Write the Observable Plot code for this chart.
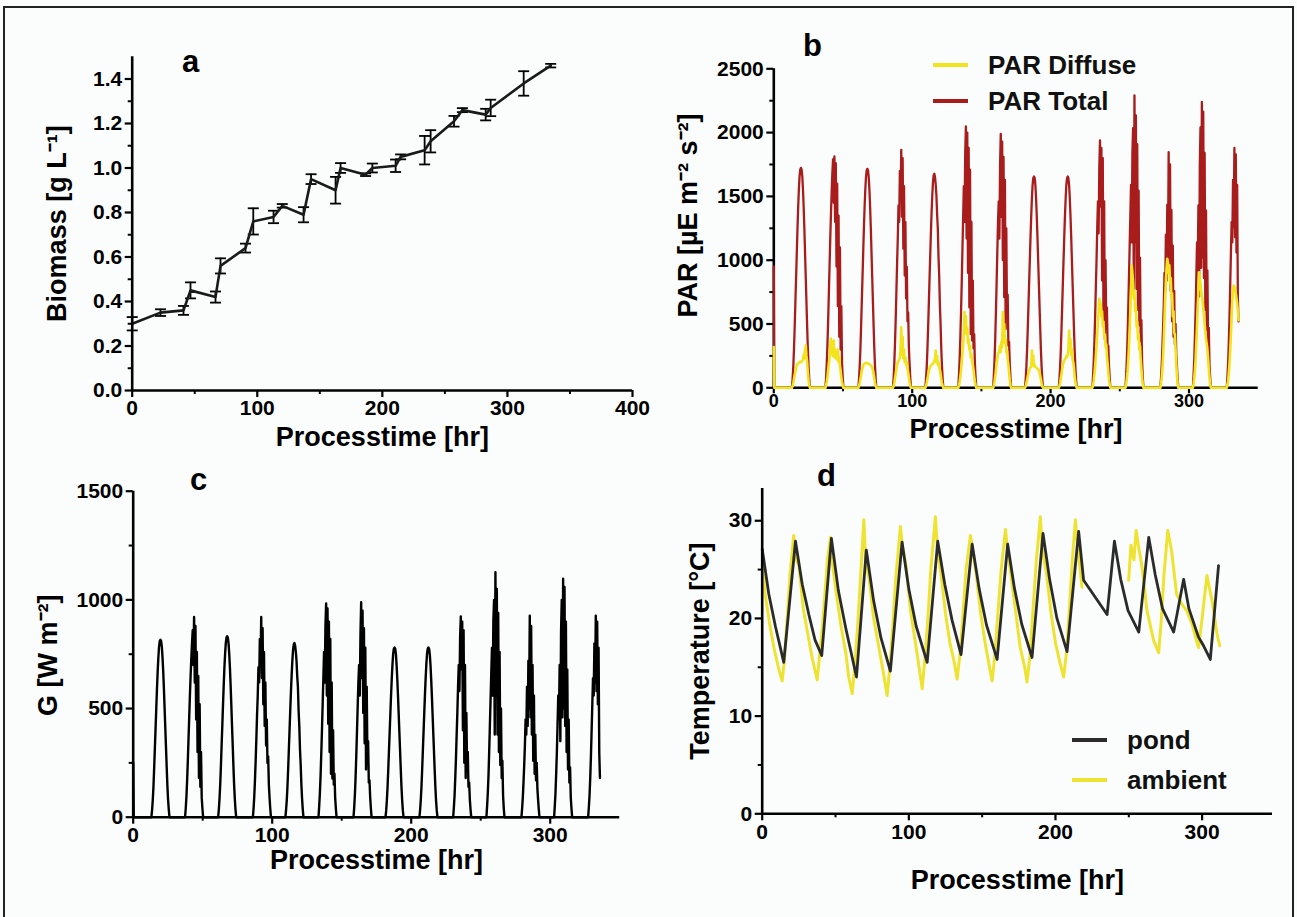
<!DOCTYPE html>
<html><head><meta charset="utf-8">
<script src="https://cdn.jsdelivr.net/npm/d3@7"></script>
<script src="https://cdn.jsdelivr.net/npm/@observablehq/plot@0.6"></script>
<style>
body{margin:0;background:#fbfdfd;}
#fig{position:relative;width:1297px;height:917px;overflow:hidden;font-family:"Liberation Sans",Arial,sans-serif;background:#fbfdfd;}
#frame{position:absolute;left:3px;top:6px;width:1287px;height:960px;border:2px solid #222;}
.panel{position:absolute;}
.legend{position:absolute;font-weight:bold;font-size:26px;color:#111;display:flex;align-items:center;white-space:nowrap;line-height:1;}
.legend .sw{display:inline-block;width:35px;height:4px;margin-right:20px;}
</style></head><body>
<div id="fig"><div id="frame"></div></div>
<script>
// ---------- Panel a: biomass ----------
const bioReadings = [ // [hour, g/L, error]
 [0,0.30,0.03],[22.6,0.35,0.015],[41,0.36,0.02],[46.6,0.45,0.036],[66.6,0.42,0.025],[70.6,0.56,0.034],
 [90.6,0.64,0.02],[96.8,0.76,0.059],[113,0.78,0.028],[120,0.83,0.008],[137,0.79,0.034],[143,0.95,0.022],
 [162.6,0.90,0.06],[166.6,1.00,0.022],[186.6,0.97,0.006],[192,1.00,0.02],[210.6,1.01,0.028],[214.6,1.05,0.011],
 [233.8,1.08,0.064],[238.6,1.12,0.05],[257.3,1.21,0.024],[264,1.26,0.009],[282.6,1.24,0.026],[286.6,1.27,0.037],
 [313,1.38,0.055],[334.6,1.46,0.008]];

// ---------- daily irradiance sampling ----------
const noonHours = [19.6, 43.8, 67.6, 92.6, 116.0, 139.8, 165.0, 188.0, 212.4, 236.7, 260.6, 285.8, 309.3, 333.8];
const dayOffsets = [-6.5,-6,-5.5,-5,-4.5,-4,-3.5,-3,-2.5,-2,-1.5,-1,-0.5,0,0.5,1,1.5,2,2.5,3,3.5,4,4.5,5,5.5,6,6.5];
const startHours = [0, 0.4];

// Panel c: global irradiance G [W m-2]
const gStart = [250, 0];
const gDays = [
 [0,35,80,145,230,320,410,500,590,670,735,785,810,816,810,785,735,670,590,500,410,320,230,145,80,35,0],
 [0,40,95,170,260,360,460,560,650,730,800,860,700,921,620,880,450,760,300,650,180,520,140,300,90,40,0],
 [0,35,85,150,235,330,420,515,605,685,750,800,826,832,826,800,750,685,605,515,420,330,235,150,85,35,0],
 [0,40,95,170,260,360,470,560,690,620,820,700,921,640,870,520,760,420,620,330,450,250,280,150,90,40,0],
 [0,35,80,145,225,315,405,495,580,655,720,770,795,801,790,760,720,650,600,490,420,310,240,150,85,35,0],
 [0,50,110,190,290,400,520,640,760,620,880,983,560,960,430,900,300,820,200,620,178,400,150,200,90,40,0],
 [0,45,105,185,285,395,510,620,700,560,840,989,640,950,480,870,340,780,220,600,270,350,160,170,90,40,0],
 [0,30,78,140,220,305,390,475,560,635,700,750,775,781,775,750,700,635,560,475,390,305,220,140,78,30,0],
 [0,32,80,142,222,308,395,480,565,640,705,752,776,781,774,748,698,632,555,470,385,300,215,138,75,30,0],
 [0,45,100,180,270,380,480,600,700,580,830,924,680,900,400,860,250,700,180,480,220,300,140,160,80,35,0],
 [0,50,110,190,300,420,540,660,780,560,900,1000,380,1127,560,1050,380,940,300,760,240,500,180,260,100,40,0],
 [0,40,90,160,240,330,450,380,600,420,720,500,927,460,880,380,700,260,560,200,380,170,250,130,80,35,0],
 [0,50,110,200,300,430,560,450,700,350,850,1000,460,1097,500,1060,420,900,300,680,220,450,160,230,90,40,0],
 [0,45,100,180,280,400,520,640,560,800,620,927,580,900,520,780,295,180]];

// Panel b: PAR total and diffuse [µE m-2 s-2]
const parTotalStart = [950, 0];
const parTotalDays = [
 [0,70,170,310,480,670,860,1050,1240,1410,1550,1655,1710,1724,1710,1655,1550,1410,1240,1050,860,670,480,310,170,70,0],
 [0,80,200,350,540,750,960,1170,1360,1530,1680,1790,1450,1813,1300,1760,950,1600,640,1350,400,1100,300,640,190,80,0],
 [0,70,175,315,490,680,870,1060,1250,1415,1550,1650,1705,1716,1705,1650,1550,1415,1250,1060,870,680,490,315,175,70,0],
 [0,80,200,355,545,760,980,1180,1430,1300,1700,1480,1865,1340,1800,1090,1580,880,1300,700,950,520,590,320,190,80,0],
 [0,70,165,300,470,655,845,1030,1210,1370,1505,1610,1665,1677,1650,1590,1505,1360,1250,1030,880,650,500,310,175,70,0],
 [0,100,230,400,600,830,1080,1330,1580,1300,1830,2048,1170,2000,900,1880,630,1710,420,1300,370,840,310,420,190,80,0],
 [0,95,220,385,595,825,1065,1295,1460,1170,1750,1990,1340,1930,1000,1810,710,1630,460,1250,560,730,330,360,190,80,0],
 [0,65,165,295,465,645,825,1005,1185,1345,1485,1590,1645,1656,1645,1590,1485,1345,1185,1005,825,645,465,295,165,65,0],
 [0,68,170,300,470,652,835,1015,1195,1355,1490,1592,1643,1656,1640,1585,1478,1338,1175,995,815,635,455,292,160,64,0],
 [0,95,210,375,565,795,1000,1255,1460,1210,1735,1938,1420,1880,840,1800,520,1460,380,1000,460,630,290,330,170,75,0],
 [0,100,225,390,610,855,1100,1340,1590,1140,1830,2035,775,2291,1140,2135,775,1910,610,1545,490,1020,365,530,205,80,0],
 [0,80,180,320,480,660,900,760,1200,840,1435,1000,1846,920,1750,760,1395,520,1115,400,760,340,500,260,160,70,0],
 [0,100,225,410,610,875,1140,920,1430,715,1735,2040,940,2240,1020,2165,860,1840,610,1390,450,920,325,470,185,80,0],
 [0,90,205,365,570,815,1060,1300,1140,1630,1260,1880,1180,1830,1060,1590,700,520]];
const parDiffuseStart = [320, 0];
const parDiffuseDays = [
 [0,15,40,70,100,130,155,175,185,190,195,200,205,200,205,210,220,260,230,300,332,250,200,120,60,20,0],
 [0,20,50,90,140,190,240,330,385,300,260,250,370,240,300,230,260,220,300,200,240,170,130,80,45,20,0],
 [0,15,40,70,100,130,155,175,185,190,192,195,195,192,190,188,185,180,175,168,160,140,110,75,40,15,0],
 [0,15,40,75,110,150,180,200,210,220,240,300,475,260,400,230,300,200,240,180,200,150,120,80,40,15,0],
 [0,15,40,70,100,130,150,165,175,180,185,190,200,210,230,292,200,250,180,200,160,140,110,70,40,15,0],
 [0,20,50,90,140,200,270,350,430,593,500,560,420,470,350,380,300,330,240,260,200,180,140,90,50,20,0],
 [0,20,50,90,140,190,230,260,280,300,330,280,360,320,593,420,500,350,380,280,290,220,180,120,60,20,0],
 [0,12,35,60,90,115,135,150,160,165,292,200,250,170,180,165,160,155,150,145,135,120,95,65,35,12,0],
 [0,15,40,75,110,150,180,200,215,225,235,250,240,260,300,449,320,380,260,300,220,200,150,90,45,15,0],
 [0,25,60,110,170,250,330,420,520,600,697,640,660,560,600,480,520,400,420,320,340,250,190,120,60,25,0],
 [0,30,70,130,210,320,450,600,760,958,900,820,700,760,600,640,480,520,380,420,300,330,220,150,80,30,0],
 [0,30,80,150,250,380,540,700,840,940,1011,980,900,960,820,860,700,740,560,600,430,420,300,180,90,30,0],
 [0,30,75,140,230,350,480,620,760,906,860,820,760,720,680,620,560,500,440,380,346,300,230,150,80,30,0],
 [0,25,60,120,200,300,420,550,680,760,802,790,770,740,700,660,600,530]];

// Panel d: temperatures [hour, °C]
const pondReadings = [
 [0,27.1],[4.5,22.5],[9,19.2],[14.7,15.5],[22.7,27.9],[27.3,23.5],[31.8,20.4],[36,17.8],[40.6,16.2],
 [47.2,28.2],[52,22.8],[57,19.0],[64.3,14.0],[71,27.0],[76,21.8],[81,18.0],[87.4,14.6],[95.4,27.8],
 [100,23.0],[105,19.2],[112.5,15.5],[119.7,27.9],[124.5,23.5],[129.5,19.8],[135.6,16.3],[143.2,27.6],
 [148,23.0],[153,19.3],[160.2,15.8],[167.4,27.6],[172,23.1],[177,19.4],[184,16.0],[191.5,28.7],
 [196,24.0],[201,20.0],[207.9,16.6],[215.8,28.9],[219.2,23.9],[235.2,20.4],[240.2,27.9],[244.5,24.0],
 [249.5,20.8],[256.8,18.6],[263.6,28.3],[268,24.5],[273,21.0],[280.6,18.6],[287.4,24.0],[291,21.0],
 [297.5,18.1],[301,17.2],[305.6,15.8],[311.2,25.4]];
const ambientReadings = [
 [0,25.5],[2,22.5],[5,19.5],[8,17],[11,15],[13.6,13.6],[15,15.5],[17,20],[19,24.5],[21.5,28.5],[23,26],[25,25.5],
 [28,21],[31,18.5],[34,16],[37.5,13.7],[39,16],[41,19],[43,23],[44.5,26],[46.6,28.3],[48,25.5],[51,22],[54,19],
 [57,16.5],[59,14],[61.4,12.3],[63,15],[65,19],[67,24],[69.3,30.1],[70.5,26],[73,24],[76,20],[79,17.5],[82,15],
 [85.2,12.1],[87,15],[89,19],[91,24],[94.3,29.4],[95.5,27.5],[98,25.5],[101,21],[104,18],[107,15],[109.1,12.8],
 [111,16],[113,20],[115,25],[118.1,30.4],[119.5,27],[122,24.5],[125,20.5],[128,17.5],[131,15.5],[132.9,13.8],
 [135,16.5],[137,20.5],[139,25],[142,28.5],[143.5,27],[146,24.5],[149,20.5],[152,17.5],[155,15],[156.8,13.6],
 [158.5,16],[160.5,20],[163,25],[165.9,29.1],[167,27.5],[170,24],[173,20.5],[176,17],[179,15],[180.6,13.5],
 [182.5,16],[184.5,20.5],[187,26],[189.7,30.4],[191,27],[194,24.5],[197,20.5],[200,17.5],[203,15.5],[205.6,14.0],
 [207.5,16.5],[209.5,21],[211.5,26],[213.6,30.1],[215,27.5],[218.1,23.2],[234,null],
 [249.9,23.9],[251.5,27.5],[253.5,26],[255,29],[256.5,27.5],[259,25.3],[262.4,20.8],[267,17.7],[270.4,16.5],
 [272,19.5],[274,24.5],[276.6,29],[279.2,26.9],[282.6,22.5],[286,21.5],[289.4,20.8],[293,19.5],[296.2,17.7],
 [297.6,17.0],[300,20],[303.3,24.4],[306.8,21.8],[310.2,18.4],[312,17.2]];

// ---------- helpers ----------
function dailyRows(startV, days) {
  const rows = startHours.map((t, i) => ({t, v: startV[i]}));
  days.forEach((vals, k) => vals.forEach((v, i) => rows.push({t: noonHours[k] + dayOffsets[i], v})));
  return rows;
}
const bio = bioReadings.map(([t, v, e]) => ({t, v, e}));
const gRows = dailyRows(gStart, gDays);
const totRows = dailyRows(parTotalStart, parTotalDays);
const difRows = dailyRows(parDiffuseStart, parDiffuseDays);
const pond = pondReadings.map(([t, v]) => ({t, v}));
const ambient = ambientReadings.map(([t, v]) => ({t, v}));

const FONT = "Liberation Sans, Arial, Helvetica, sans-serif";
const TITLEFS = 27, LETTERFS = 31;

function axes(xMajor, xMinor, yMajor, yMinor, yFmt, xfs = 21, xpad = 3, xsize = 7) {
  return [
    Plot.axisX({ticks: xMajor, tickSize: xsize, tickPadding: xpad, fontSize: xfs, fontWeight: "bold", strokeWidth: 2.2, label: null, tickFormat: d => String(d)}),
    Plot.axisX({ticks: xMinor, tickSize: 4, tickFormat: () => "", strokeWidth: 2, label: null}),
    Plot.axisY({ticks: yMajor, tickSize: 7, tickPadding: 3, fontSize: 21, fontWeight: "bold", strokeWidth: 2.2, label: null, tickFormat: yFmt}),
    Plot.axisY({ticks: yMinor, tickSize: 4, tickFormat: () => "", strokeWidth: 2, label: null}),
  ];
}
function titles(letter, ldx, ldy, xt, xdy, yt, ydx, ydy) {
  return [
    Plot.text([letter], {frameAnchor: "top-left", dx: ldx, dy: ldy, fontSize: LETTERFS, fontWeight: "bold", textAnchor: "middle", lineAnchor: "middle"}),
    Plot.text([xt], {frameAnchor: "bottom", dy: xdy, fontSize: TITLEFS, fontWeight: "bold", textAnchor: "middle", lineAnchor: "middle"}),
    Plot.text([yt], {frameAnchor: "left", dx: ydx, dy: ydy, rotate: -90, fontSize: TITLEFS, fontWeight: "bold", textAnchor: "middle", lineAnchor: "middle"}),
  ];
}
const style = {background: "transparent", color: "black", fontFamily: FONT, overflow: "visible"};
const frameLines = [Plot.ruleX([0], {strokeWidth: 2.6}), Plot.ruleY([0], {strokeWidth: 2.6})];
const capSymbol = {draw(ctx) { ctx.moveTo(-5.5, 0); ctx.lineTo(5.5, 0); }};

const fig = document.getElementById("fig");
function place(svg, left, top) {
  const d = document.createElement("div");
  d.className = "panel"; d.style.left = left + "px"; d.style.top = top + "px";
  d.appendChild(svg); fig.appendChild(d);
}

// ---------- a ----------
place(Plot.plot({
  width: 660, height: 470, marginLeft: 131.7, marginRight: 28, marginTop: 56.25, marginBottom: 80, style,
  x: {domain: [0, 400]}, y: {domain: [0, 1.5]},
  marks: [
    ...axes([0,100,200,300,400], [50,150,250,350], [0,0.2,0.4,0.6,0.8,1.0,1.2,1.4], [0.1,0.3,0.5,0.7,0.9,1.1,1.3], d3.format(".1f")),
    Plot.ruleX(bio, {x: "t", y1: d => d.v - d.e, y2: d => d.v + d.e, strokeWidth: 1.8}),
    Plot.dot(bio, {x: "t", y: d => d.v - d.e, symbol: capSymbol, r: 3, stroke: "black", strokeWidth: 1.8, fill: "none"}),
    Plot.dot(bio, {x: "t", y: d => d.v + d.e, symbol: capSymbol, r: 3, stroke: "black", strokeWidth: 1.8, fill: "none"}),
    Plot.line(bio, {x: "t", y: "v", stroke: "#1a1a1a", strokeWidth: 2.6}),
    ...frameLines,
    ...titles("a", 58.3, 5.75, "Processtime [hr]", 47, "Biomass [g L⁻¹]", -74.7, 0)
  ]
}), 0, 0);

// ---------- b ----------
place(Plot.plot({
  width: 640, height: 470, marginLeft: 123.3, marginRight: 32.3, marginTop: 68.3, marginBottom: 82.7, style,
  x: {domain: [0, 350]}, y: {domain: [0, 2500]},
  marks: [
    ...axes([0,100,200,300], [50,150,250], [0,500,1000,1500,2000,2500], [250,750,1250,1750,2250], d => String(d), 18, 0, 6),
    ...frameLines,
    Plot.line(totRows, {x: "t", y: "v", stroke: "#a81c1c", strokeWidth: 2.3}),
    Plot.line(difRows, {x: "t", y: "v", stroke: "#f2e41c", strokeWidth: 2.6}),
    ...titles("b", 38.7, -22.3, "Processtime [hr]", 41.5, "PAR [µE m⁻² s⁻²]", -85.3, -12.8)
  ]
}), 650, 0);

// ---------- c ----------
place(Plot.plot({
  width: 660, height: 457, marginLeft: 132.7, marginRight: 40.8, marginTop: 30.7, marginBottom: 100.3, style,
  x: {domain: [0, 350]}, y: {domain: [0, 1500]},
  marks: [
    ...axes([0,100,200,300], [50,150,250], [0,500,1000,1500], [250,750,1250], d => String(d)),
    Plot.line(gRows, {x: "t", y: "v", stroke: "black", strokeWidth: 2.4}),
    ...frameLines,
    ...titles("c", 65.3, -10.7, "Processtime [hr]", 43.3, "G [W m⁻²]", -84.7, 1)
  ]
}), 0, 460);

// ---------- d ----------
place(Plot.plot({
  width: 640, height: 457, marginLeft: 111.7, marginRight: 18, marginTop: 28, marginBottom: 103.7, style,
  x: {domain: [0, 348]}, y: {domain: [0, 33.3]},
  marks: [
    ...axes([0,100,200,300], [50,150,250], [0,10,20,30], [5,15,25], d => String(d)),
    Plot.line(ambient, {x: "t", y: "v", stroke: "#efe332", strokeWidth: 3}),
    Plot.line(pond, {x: "t", y: "v", stroke: "#2b2b2b", strokeWidth: 2.8}),
    ...frameLines,
    ...titles("d", 64.3, -12, "Processtime [hr]", 66.7, "Temperature [°C]", -61.7, 0)
  ]
}), 650, 460);

// ---------- legends ----------
function legend(left, top, color, label) {
  const d = document.createElement("div");
  d.className = "legend"; d.style.left = left + "px"; d.style.top = top + "px";
  const sw = document.createElement("span"); sw.className = "sw"; sw.style.background = color;
  d.appendChild(sw); d.appendChild(document.createTextNode(label)); fig.appendChild(d);
}
legend(933, 52, "#f2e41c", "PAR Diffuse");
legend(933, 88, "#a81c1c", "PAR Total");
legend(1072, 727, "#2b2b2b", "pond");
legend(1072, 767, "#efe332", "ambient");
</script></body></html>
